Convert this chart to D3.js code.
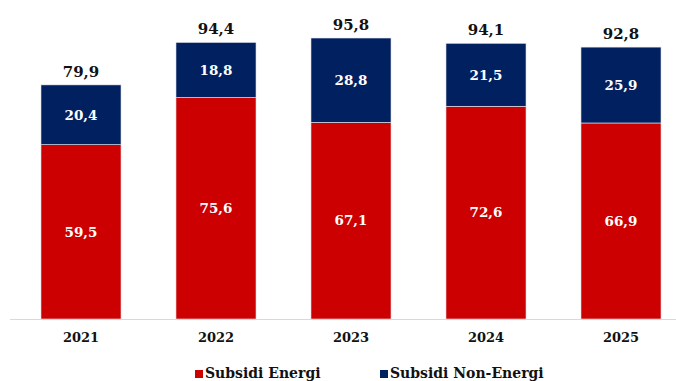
<!DOCTYPE html>
<html>
<head>
<meta charset="utf-8">
<script src="https://cdn.jsdelivr.net/npm/d3@7"></script>
<style>
  body { margin: 0; background: #fff; }
  text { font-family: "DejaVu Serif", "Liberation Serif", serif; font-weight: bold; }
</style>
</head>
<body>
<div id="chart"></div>
<script>
// data
var years = ["2021", "2022", "2023", "2024", "2025"];
var energi = [59.5, 75.6, 67.1, 72.6, 66.9];
var nonEnergi = [20.4, 18.8, 28.8, 21.5, 25.9];
var totals = [79.9, 94.4, 95.8, 94.1, 92.8];
var seriesNames = ["Subsidi Energi", "Subsidi Non-Energi"];
var colors = ["#cc0000", "#002060"];

var W = 676, H = 381;
var svg = d3.select("#chart").append("svg")
    .attr("width", W)
    .attr("height", H);

var x = d3.scaleBand()
    .domain(years)
    .range([13.5, 688.5])
    .paddingInner(0.407)
    .paddingOuter(0.2035);

var y = d3.scaleLinear()
    .domain([0, 100])
    .range([319, 26]);

var fmt = function (v) { return d3.format(".1f")(v).replace(".", ","); };

var rows = years.map(function (yr, i) {
    return { year: yr, energi: energi[i], non: nonEnergi[i], total: totals[i] };
});
var stack = d3.stack().keys(["energi", "non"])(rows);

// bars
svg.selectAll("g.layer")
    .data(stack)
    .enter().append("g")
    .attr("class", "layer")
    .attr("fill", function (d, i) { return colors[i]; })
    .selectAll("rect")
    .data(function (d) { return d; })
    .enter().append("rect")
    .attr("x", function (d) { return x(d.data.year); })
    .attr("width", x.bandwidth())
    .attr("y", function (d) { return y(d[1]); })
    .attr("height", function (d) { return y(d[0]) - y(d[1]); })
    .attr("stroke", "#e8e8ee")
    .attr("stroke-width", 0.6);

// segment labels
stack.forEach(function (layer, li) {
    svg.selectAll(null)
        .data(layer)
        .enter().append("text")
        .attr("x", function (d) { return x(d.data.year) + x.bandwidth() / 2; })
        .attr("y", function (d) { return (y(d[0]) + y(d[1])) / 2; })
        .attr("dy", "0.35em")
        .attr("text-anchor", "middle")
        .attr("fill", "#fff")
        .style("font-size", "13.5px")
        .text(function (d) { return fmt(d[1] - d[0]); });
});

// totals
svg.selectAll("text.total")
    .data(rows)
    .enter().append("text")
    .attr("class", "total")
    .attr("x", function (d) { return x(d.year) + x.bandwidth() / 2; })
    .attr("y", function (d) { return y(d.energi + d.non) - 8; })
    .attr("text-anchor", "middle")
    .attr("fill", "#111")
    .style("font-size", "15px")
    .text(function (d) { return fmt(d.total); });

// x axis
var xAxis = svg.append("g")
    .attr("transform", "translate(0,319)")
    .call(d3.axisBottom(x).tickSize(0).tickPadding(14));
xAxis.select(".domain").attr("stroke", "#d9d9d9").attr("d", "M10,0.5H676");
xAxis.selectAll("text")
    .attr("fill", "#111")
    .style("font-size", "13px")
    .style("font-family", "'DejaVu Serif', serif")
    .style("font-weight", "bold");

// legend
var legendX = [195, 380];
var legend = svg.selectAll("g.legend")
    .data(seriesNames)
    .enter().append("g")
    .attr("class", "legend")
    .attr("transform", function (d, i) { return "translate(" + legendX[i] + ",378)"; });
legend.append("rect")
    .attr("x", 0).attr("y", -8)
    .attr("width", 8).attr("height", 8)
    .attr("fill", function (d, i) { return colors[i]; });
legend.append("text")
    .attr("x", 10)
    .attr("fill", "#111")
    .style("font-size", "14px")
    .text(function (d) { return d; });
</script>
</body>
</html>
